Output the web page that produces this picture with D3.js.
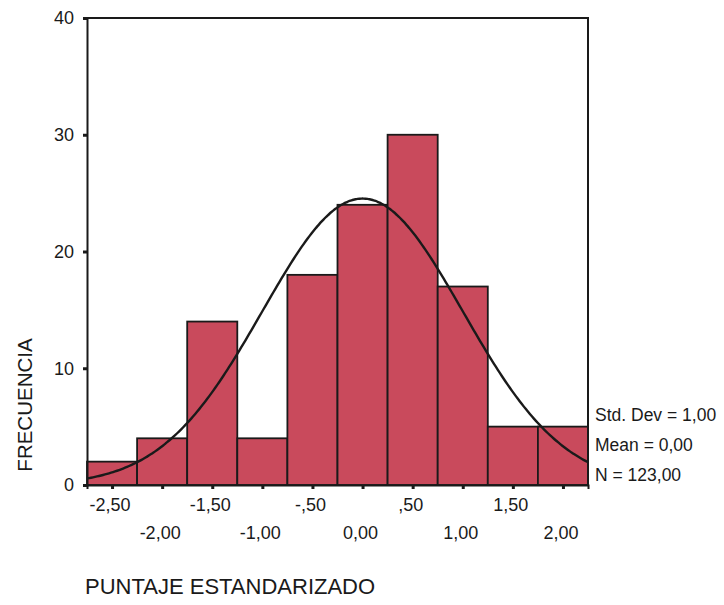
<!DOCTYPE html>
<html>
<head>
<meta charset="utf-8">
<script src="https://cdn.jsdelivr.net/npm/d3@7"></script>
<style>
  html, body { margin: 0; padding: 0; background: #fff; }
  svg { display: block; font-family: Arial, "Liberation Sans", sans-serif; }
</style>
</head>
<body>
<svg id="chart" width="724" height="605"></svg>
<script>
// ---- data ----
const binCenters = [-2.5, -2.0, -1.5, -1.0, -0.5, 0.0, 0.5, 1.0, 1.5, 2.0];
const counts     = [2, 4, 14, 4, 18, 24, 30, 17, 5, 5];
const xTickLabels = ["-2,50", "-2,00", "-1,50", "-1,00", "-,50", "0,00", ",50", "1,00", "1,50", "2,00"];
const yTicks = [0, 10, 20, 30, 40];
const statLines = ["Std. Dev = 1,00", "Mean = 0,00", "N = 123,00"];
const binWidth = 0.5;
const meanVal = 0;
const sdVal = 1;
const nVal = 123;
const xTitle = "PUNTAJE ESTANDARIZADO";
const yTitle = "FRECUENCIA";

// ---- layout ----
const svg = d3.select("#chart");
const x = d3.scaleLinear().domain([-2.75, 2.25]).range([87, 588]);
const y = d3.scaleLinear().domain([0, 40]).range([485, 18]);

const barFill = "#c94a5c";
const ink = "#1a1a1a";

// bars
svg.append("g").selectAll("rect")
  .data(binCenters.map((c, i) => ({ c, n: counts[i] })))
  .join("rect")
  .attr("x", d => x(d.c - binWidth / 2))
  .attr("width", d => x(d.c + binWidth / 2) - x(d.c - binWidth / 2))
  .attr("y", d => y(d.n))
  .attr("height", d => y(0) - y(d.n))
  .attr("fill", barFill)
  .attr("stroke", ink)
  .attr("stroke-width", 1.8);

// normal curve
const pdf = v => Math.exp(-0.5 * ((v - meanVal) / sdVal) ** 2) / (sdVal * Math.sqrt(2 * Math.PI));
const curvePts = d3.range(-2.75, 2.2501, 0.02).map(v => [v, nVal * binWidth * pdf(v)]);
svg.append("path")
  .datum(curvePts)
  .attr("fill", "none")
  .attr("stroke", ink)
  .attr("stroke-width", 2.4)
  .attr("d", d3.line().x(d => x(d[0])).y(d => y(d[1])).curve(d3.curveBasis));

// frame (top and right)
svg.append("path")
  .attr("d", `M${x(-2.75)},${y(40)} H${x(2.25)} V${y(0)}`)
  .attr("fill", "none").attr("stroke", ink).attr("stroke-width", 2);

// y axis
const yAxis = d3.axisLeft(y).tickValues(yTicks).tickSize(4).tickPadding(9).tickFormat(d3.format("d"));
const gy = svg.append("g").attr("transform", `translate(${x(-2.75)},0)`).call(yAxis);
gy.select(".domain").attr("stroke", ink).attr("stroke-width", 2);
gy.selectAll(".tick line").attr("stroke", ink).attr("stroke-width", 3);
gy.selectAll(".tick text").attr("font-size", 18).attr("fill", ink)
  .attr("font-family", "Arial, 'Liberation Sans', sans-serif");

// x axis
const xAxis = d3.axisBottom(x).tickValues(binCenters).tickSize(4).tickFormat("");
const gx = svg.append("g").attr("transform", `translate(0,${y(0)})`).call(xAxis);
gx.select(".domain").attr("stroke", ink).attr("stroke-width", 2);
gx.selectAll(".tick line").attr("stroke", ink).attr("stroke-width", 3);

// staggered x tick labels
svg.append("g").selectAll("text")
  .data(binCenters.map((c, i) => ({ c, label: xTickLabels[i], row: i % 2 })))
  .join("text")
  .attr("x", d => x(d.c) - 2)
  .attr("y", d => d.row === 0 ? 511 : 539)
  .attr("text-anchor", "middle")
  .attr("font-size", 18)
  .attr("fill", ink)
  .text(d => d.label);

// stats text
svg.append("g").selectAll("text")
  .data(statLines)
  .join("text")
  .attr("x", 595)
  .attr("y", (d, i) => 421 + i * 30)
  .attr("font-size", 17.5)
  .attr("fill", ink)
  .text(d => d);

// axis titles
svg.append("text")
  .attr("x", 85).attr("y", 594)
  .attr("font-size", 22)
  .attr("fill", ink)
  .text(xTitle);

svg.append("text")
  .attr("transform", "translate(32,405) rotate(-90)")
  .attr("text-anchor", "middle")
  .attr("font-size", 20.5)
  .attr("fill", ink)
  .text(yTitle);
</script>
</body>
</html>
